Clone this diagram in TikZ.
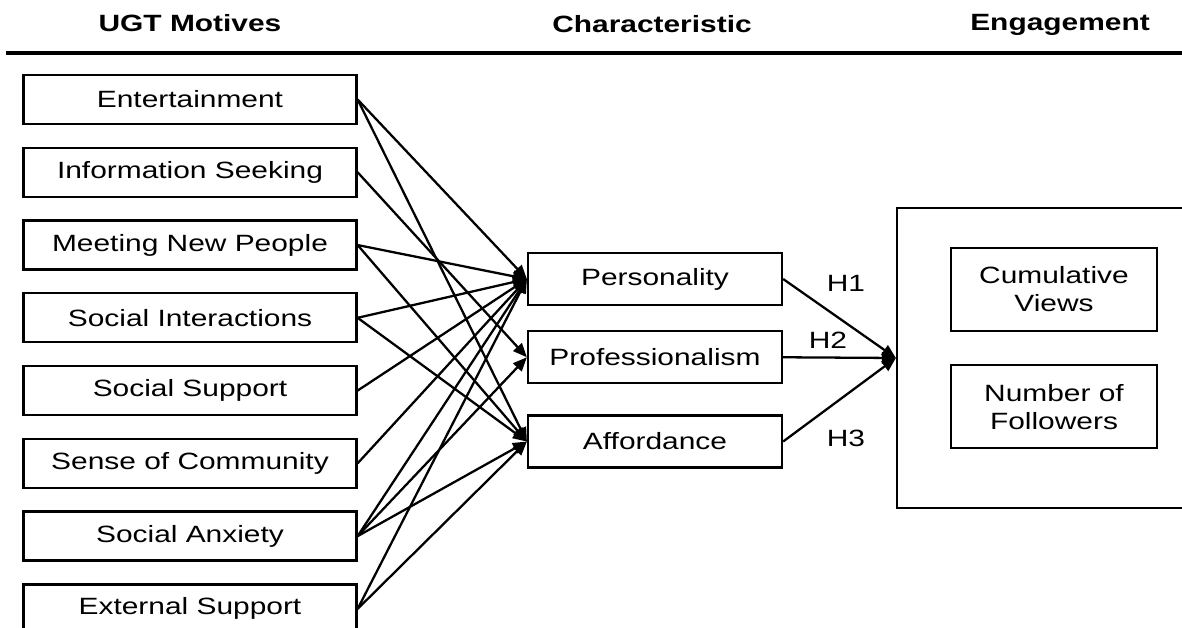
\documentclass[tikz,border=0pt]{standalone}
\usepackage{fontspec}
\setmainfont{Liberation Sans}[FakeStretch=1.27]
\usepackage{xcolor}
\usepackage{tikz}
\usetikzlibrary{arrows.meta,positioning}

\begin{document}
\begin{tikzpicture}[
    x=0.02cm, y=-0.02cm,
    node distance=4.3mm and 9mm,
    motive/.style={
        rectangle,
        draw=black,
        line width=1.3pt,
        minimum width=6.66cm,
        minimum height=0.98cm,
        align=center,
        font=\fontsize{13.4}{16}\selectfont
    },
    trait/.style={
        rectangle,
        draw=black,
        line width=1.3pt,
        minimum width=5.08cm,
        minimum height=1.04cm,
        align=center,
        font=\fontsize{13.4}{16}\selectfont
    },
    outcome/.style={
        rectangle,
        draw=black,
        line width=1.3pt,
        minimum width=4.12cm,
        minimum height=1.66cm,
        align=center,
        font=\fontsize{13.4}{16}\selectfont
    },
    heading/.style={
        anchor=base,
        font=\bfseries\fontsize{13.4}{16}\selectfont
    },
    hyp/.style={
        font=\fontsize{13.4}{16}\selectfont
    },
    arrow/.style={
        -{Triangle[length=2.8mm,width=2.3mm]},
        line width=1.3pt
    }
]

\useasboundingbox (0,0) rectangle (1182,628);

% ---------------- HEADER ----------------

\node[heading] (hmotives) at (190,32) {UGT Motives};
\node[heading] (hchar) at (652,33) {Characteristic};
\node[heading] (hengage) at (1060,31) {Engagement};

\coordinate (ruleL) at (6,53);
\coordinate (ruleR) at (1182,53);
\draw[line width=1.8pt] (ruleL) -- (ruleR);

% ---------------- MOTIVES ----------------

\node[motive] (ent) at (190,99.5)
    {Entertainment};

\node[motive, below=of ent] (info)
    {Information Seeking};

\node[motive, below=of info] (meet)
    {Meeting New People};

\node[motive, below=of meet] (inter)
    {Social Interactions};

\node[motive, below=of inter] (support)
    {Social Support};

\node[motive, below=of support] (community)
    {Sense of Community};

\node[motive, below=of community] (anxiety)
    {Social Anxiety};

\node[motive, below=of anxiety] (external)
    {External Support};

% ---------------- CHARACTERISTIC ----------------

\node[trait] (pers) at (655,279)
    {Personality};

\node[trait, below=4.8mm of pers] (prof)
    {Professionalism};

\node[trait, below=6.0mm of prof] (aff)
    {Affordance};

% ---------------- ENGAGEMENT ----------------

\node[draw=black, line width=1.3pt, minimum width=6.06cm,
    minimum height=6cm] (engage) at (1048.5,358) {};

\node[outcome] (views) at (1054,289.5)
    {Cumulative\\Views};

\node[outcome, below=6.4mm of views] (followers)
    {Number of\\Followers};


% motives -> personality
\draw[arrow] (ent.east) -- (pers.west);
\draw[arrow] (meet.east) -- (pers.west);
\draw[arrow] (inter.east) -- (pers.west);
\draw[arrow] (support.east) -- (pers.west);
\draw[arrow] (community.east) -- (pers.west);
\draw[arrow] (anxiety.east) -- (pers.west);
\draw[arrow] (external.east) -- (pers.west);

% motives -> professionalism
\draw[arrow] (info.east) -- (prof.west);
\draw[arrow] (anxiety.east) -- (prof.west);

% motives -> affordance
\draw[arrow] (ent.east) -- (aff.west);
\draw[arrow] (meet.east) -- (aff.west);
\draw[arrow] (inter.east) -- (aff.west);
\draw[arrow] (anxiety.east) -- (aff.west);
\draw[arrow] (external.east) -- (aff.west);

% characteristic -> engagement
\draw[arrow] (pers.east) -- (engage.west);
\draw[arrow] (prof.east) -- (engage.west);
\draw[arrow] (aff.east) -- (engage.west);

\node[hyp] (h1) at (846,283) {H1};
\node[hyp] (h2) at (828,340) {H2};
\node[hyp] (h3) at (846,438) {H3};

\end{tikzpicture}
\end{document}
